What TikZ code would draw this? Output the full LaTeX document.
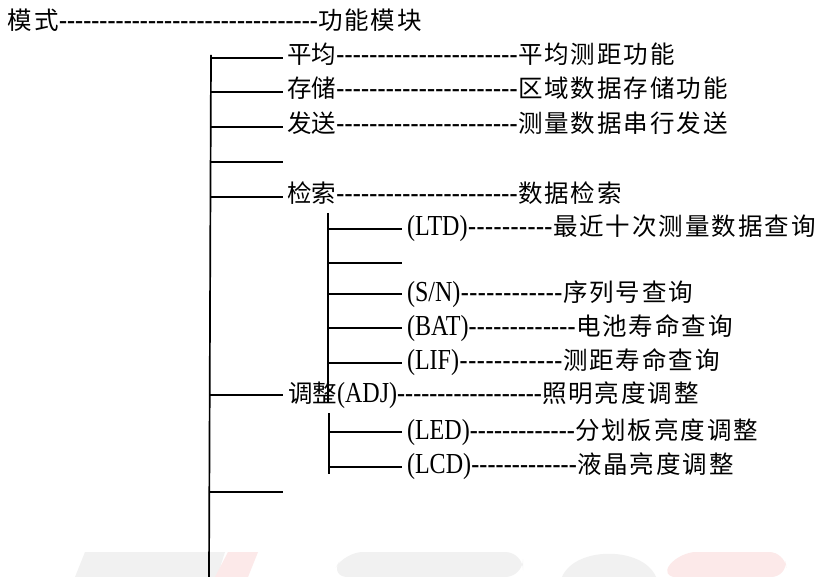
\documentclass[tikz,border=0pt]{standalone}
\usepackage{fontspec}
\setmainfont[FakeStretch=0.83]{Liberation Serif}
\newfontfamily\cjk[Scale=0.845]{Noto Sans CJK SC}
\newfontfamily\cjkw[Scale=0.845,LetterSpace=8]{Noto Sans CJK SC}
\usetikzlibrary{calc}
\newcommand\dashfill[1]{\hbox to #1{\xleaders\hbox{-}\hfill}}
% name, baseline y, label x, label text, description x, description text
\newcommand\mkrow[6]{%
  \node[lbl] (#1l) at (#3,#2) {#4};
  \node[lbl] (#1d) at (#5,#2) {#6};
  \path let \p1=(#1l.base east), \p2=(#1d.base west) in
    node[lbl] (#1h) at (\p1) {\dashfill{\dimexpr\x2-\x1\relax}};
}
\definecolor{wmgray}{HTML}{F1F1F1}
\definecolor{wmred}{HTML}{FCE9E9}
\begin{document}
\begin{tikzpicture}[x=1pt,y=-1pt,
  lbl/.style={anchor=base west,inner sep=0pt,outer sep=0pt,font=\fontsize{29}{34}\selectfont},
  br/.style={line width=1.7pt},
  trunk/.style={line width=1.7pt}]
\path[use as bounding box,fill=white] (0,0) rectangle (822,577);
% faint watermark shapes
\fill[wmgray] (75,577) -- (85,552) -- (225,552) -- (217,577) -- cycle;
\fill[wmred] (228,552) -- (258,552) -- (248,577) -- (215,577) -- cycle;
\fill[wmgray,rounded corners=18pt] (330,577) -- (345,552) -- (523,552) -- (523,577) -- cycle;
\fill[wmgray] (562,577) .. controls (575,546) and (643,546) .. (656,577) -- cycle;
\fill[wmred,rounded corners=16pt] (660,577) -- (680,552) -- (785,552) -- (787,577) -- cycle;
% main trunk
\coordinate (mtop) at (211,55);
\coordinate (mbot) at (209,577);
\draw[trunk] (mtop) -- (mbot);
\foreach \n/\y in {1/58,2/92,3/127,4/162,5/197,6/395,7/492}{
  \coordinate (ms\n) at (210,\y);
  \coordinate (me\n) at (283,\y);
  \draw[br] (ms\n) -- (me\n);
}
% sub tree of retrieval
\coordinate (s1top) at (328,213);
\coordinate (s1bot) at (328,403);
\draw[trunk] (s1top) -- (s1bot);
\foreach \n/\y in {1/229,2/263,3/294,4/328,5/363}{
  \coordinate (ss\n) at (328,\y);
  \coordinate (se\n) at (402,\y);
  \draw[br] (ss\n) -- (se\n);
}
% sub tree of adjustment
\coordinate (s2top) at (329,413);
\coordinate (s2bot) at (329,474);
\draw[trunk] (s2top) -- (s2bot);
\foreach \n/\y in {1/432,2/467}{
  \coordinate (ts\n) at (329,\y);
  \coordinate (te\n) at (402,\y);
  \draw[br] (ts\n) -- (te\n);
}
% texts
\mkrow{m}{30}{8}{{\cjkw 模式}}{318}{{\cjkw 功能模块}}
\mkrow{a}{64}{287}{{\cjk 平均}}{518}{{\cjkw 平均测距功能}}
\mkrow{b}{98}{287}{{\cjk 存储}}{518}{{\cjkw 区域数据存储功能}}
\mkrow{c}{133}{287}{{\cjk 发送}}{518}{{\cjkw 测量数据串行发送}}
\mkrow{d}{203}{287}{{\cjk 检索}}{518}{{\cjkw 数据检索}}
\mkrow{e}{236}{407}{(LTD)}{553}{{\cjkw 最近十次测量数据查询}}
\mkrow{f}{302}{407}{(S/N)}{563}{{\cjkw 序列号查询}}
\mkrow{g}{336}{407}{(BAT)}{576}{{\cjkw 电池寿命查询}}
\mkrow{h}{370}{407}{(LIF)}{563}{{\cjkw 测距寿命查询}}
\mkrow{i}{402}{288}{{\cjk 调整}(ADJ)}{542}{{\cjkw 照明亮度调整}}
\mkrow{j}{439}{407}{(LED)}{575}{{\cjkw 分划板亮度调整}}
\mkrow{k}{473}{407}{(LCD)}{577}{{\cjkw 液晶亮度调整}}
\end{tikzpicture}
\end{document}
